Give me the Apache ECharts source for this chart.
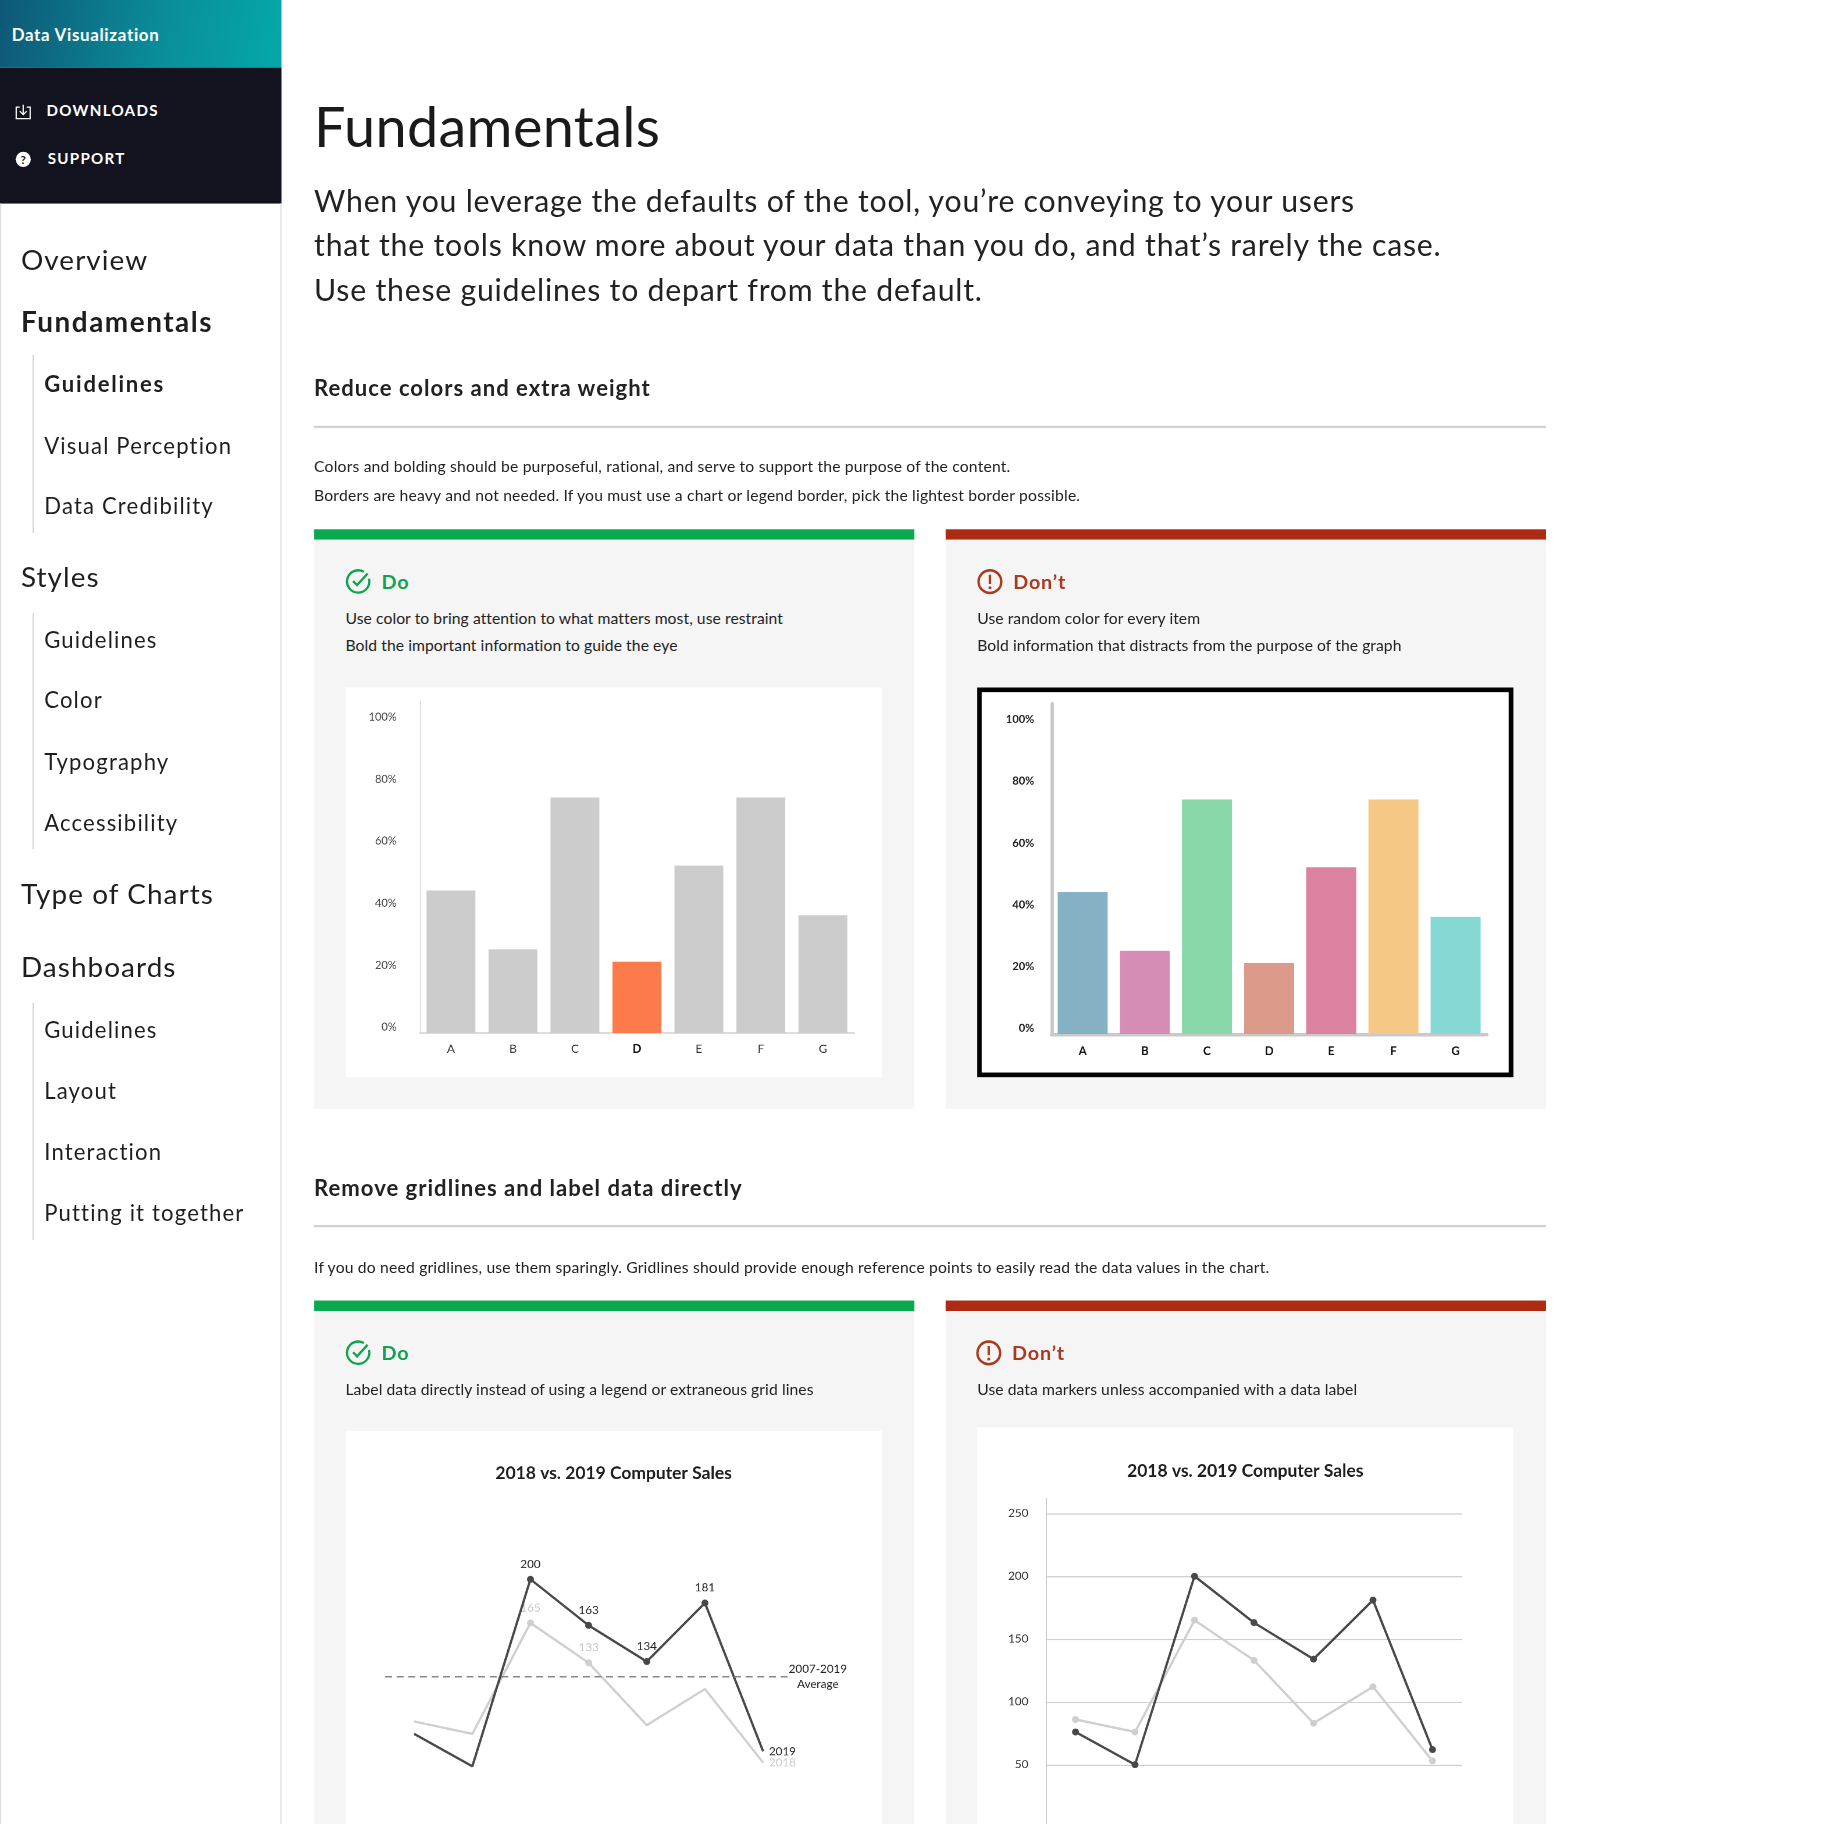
<!DOCTYPE html>
<html>
<head>
<meta charset="utf-8">
<title>Fundamentals</title>
<script src="https://cdn.jsdelivr.net/npm/echarts@6/dist/echarts.min.js"></script>
<style>
html, body { margin: 0; padding: 0; width: 1824px; height: 1824px; overflow: hidden; background: #fff; }
#page { position: absolute; left: 0; top: 0; width: 1568px; height: 1568px; overflow: hidden;
  transform: scale(1.16327); transform-origin: 0 0; font-family: Lato, "Open Sans", sans-serif; color: #1e1e1e; }
.t { position: absolute; white-space: nowrap; line-height: 1.2; }
.abs { position: absolute; }
.brand { left: 0; top: 0; width: 242px; height: 58px; background: linear-gradient(100deg, #0e5877 0%, #0a8f9b 60%, #04a9a8 100%); }
.topnav { left: 0; top: 58px; width: 242px; height: 117px; background: #13131f; }
.sidenav { left: 0; top: 175px; width: 240px; height: 1400px; border-left: 1px solid #ddd; border-right: 1px solid #ddd; }
.navl { font-size: 24px; color: #1e1e1e; left: 18px; letter-spacing: 0.9px; }
.navl.b { font-weight: 700; letter-spacing: 1.3px; }
.navs { font-size: 19px; color: #1e1e1e; left: 38px; letter-spacing: 1px; }
.navs.b { font-weight: 700; letter-spacing: 1.5px; }
.vline { left: 28px; width: 1px; background: #cfcfcf; }
.hr { left: 270px; width: 1059px; height: 1.5px; background: #d2d2d2; }
.intro { font-size: 26px; color: #222; left: 270px; letter-spacing: 0.65px; }
.para { font-size: 13.5px; color: #222; left: 270px; letter-spacing: 0.15px; }
.h2 { font-size: 19px; font-weight: 700; color: #222; left: 270px; letter-spacing: 0.85px; }
.bar-do { width: 516px; height: 9px; background: #0aa950; }
.bar-dont { width: 516px; height: 9px; background: #ad2b13; }
.panel { width: 516px; background: #f5f5f5; }
.verdict { font-size: 17px; font-weight: 700; letter-spacing: 0.7px; }
.desc { font-size: 13.5px; color: #222; letter-spacing: 0.05px; }
.top { font-size: 13px; font-weight: 700; color: #fff; letter-spacing: 1.1px; }
.box { background: #fff; }
</style>
</head>
<body>
<div id="page">
  <!-- sidebar -->
  <div class="abs brand"></div>
  <div class="t" style="left:10px;top:21px;font-size:14.5px;font-weight:700;color:#fff;letter-spacing:0.6px;">Data Visualization</div>
  <div class="abs topnav"></div>
  <svg class="abs" style="left:12px;top:89px" width="16" height="15" viewBox="0 0 16 15">
    <path d="M5 3 H2 V13 H14 V3 H11" fill="none" stroke="#fff" stroke-width="1.1"/>
    <path d="M8 1 V9 M5 6.5 L8 9.5 L11 6.5" fill="none" stroke="#fff" stroke-width="1.1"/>
  </svg>
  <div class="t top" style="left:40px;top:88px;">DOWNLOADS</div>
  <svg class="abs" style="left:13px;top:130px" width="14" height="14" viewBox="0 0 14 14">
    <circle cx="7" cy="7" r="6.5" fill="#fff"/>
    <text x="7" y="10.6" text-anchor="middle" font-size="10" font-weight="700" font-family="Lato, sans-serif" fill="#13131f">?</text>
  </svg>
  <div class="t top" style="left:41px;top:129px;">SUPPORT</div>
  <div class="abs sidenav"></div>

  <div class="t navl" style="top:209px;">Overview</div>
  <div class="t navl b" style="top:262px;">Fundamentals</div>
  <div class="abs vline" style="top:305px;height:153px;"></div>
  <div class="t navs b" style="top:319px;">Guidelines</div>
  <div class="t navs" style="top:372px;">Visual Perception</div>
  <div class="t navs" style="top:424px;">Data Credibility</div>
  <div class="t navl" style="top:482px;">Styles</div>
  <div class="abs vline" style="top:527px;height:203px;"></div>
  <div class="t navs" style="top:539px;">Guidelines</div>
  <div class="t navs" style="top:591px;">Color</div>
  <div class="t navs" style="top:644px;">Typography</div>
  <div class="t navs" style="top:696px;">Accessibility</div>
  <div class="t navl" style="top:754px;">Type of Charts</div>
  <div class="t navl" style="top:817px;">Dashboards</div>
  <div class="abs vline" style="top:862px;height:204px;"></div>
  <div class="t navs" style="top:874px;">Guidelines</div>
  <div class="t navs" style="top:927px;">Layout</div>
  <div class="t navs" style="top:979px;">Interaction</div>
  <div class="t navs" style="top:1032px;">Putting it together</div>

  <!-- main -->
  <div class="t" style="left:270px;top:79px;font-size:48px;color:#1a1a1a;letter-spacing:0.3px;">Fundamentals</div>
  <div class="t intro" style="top:157px;">When you leverage the defaults of the tool, you’re conveying to your users</div>
  <div class="t intro" style="top:195px;">that the tools know more about your data than you do, and that’s rarely the case.</div>
  <div class="t intro" style="top:234px;">Use these guidelines to depart from the default.</div>

  <div class="t h2" style="top:322px;">Reduce colors and extra weight</div>
  <div class="abs hr" style="top:366px;"></div>
  <div class="t para" style="top:393px;">Colors and bolding should be purposeful, rational, and serve to support the purpose of the content.</div>
  <div class="t para" style="top:418px;">Borders are heavy and not needed. If you must use a chart or legend border, pick the lightest border possible.</div>

  <div class="abs bar-do" style="left:270px;top:455px;"></div>
  <div class="abs panel" style="left:270px;top:464px;height:489px;"></div>
  <div class="abs bar-dont" style="left:813px;top:455px;"></div>
  <div class="abs panel" style="left:813px;top:464px;height:489px;"></div>

  <svg class="abs" style="left:296px;top:488px" width="24" height="24" viewBox="0 0 24 24">
    <path d="M21.2 9.5 A9.6 9.6 0 1 1 16.8 3.6" fill="none" stroke="#10a34f" stroke-width="2"/>
    <path d="M7.5 11.5 L11 15 L20 5" fill="none" stroke="#10a34f" stroke-width="2"/>
  </svg>
  <div class="t verdict" style="left:328px;top:490px;color:#10a34f;">Do</div>
  <div class="t desc" style="left:297px;top:523px;">Use color to bring attention to what matters most, use restraint</div>
  <div class="t desc" style="left:297px;top:547px;">Bold the important information to guide the eye</div>

  <svg class="abs" style="left:839px;top:488px" width="24" height="24" viewBox="0 0 24 24">
    <circle cx="12" cy="12" r="9.8" fill="none" stroke="#a93a1e" stroke-width="2"/>
    <path d="M12 6 V14" stroke="#a93a1e" stroke-width="2"/>
    <circle cx="12" cy="17.3" r="1.3" fill="#a93a1e"/>
  </svg>
  <div class="t verdict" style="left:871px;top:490px;color:#a93a1e;">Don’t</div>
  <div class="t desc" style="left:840px;top:523px;">Use random color for every item</div>
  <div class="t desc" style="left:840px;top:547px;">Bold information that distracts from the purpose of the graph</div>

  <div class="abs box" style="left:297px;top:591px;width:461px;height:335px;">
    <div id="doBar" style="width:461px;height:335px;"></div>
  </div>
  <div class="abs box" style="left:840px;top:591px;width:461px;height:335px;box-sizing:border-box;border:4px solid #000;">
    <div id="dontBar" style="width:453px;height:327px;"></div>
  </div>

  <div class="t h2" style="top:1010px;">Remove gridlines and label data directly</div>
  <div class="abs hr" style="top:1053px;"></div>
  <div class="t para" style="top:1081px;">If you do need gridlines, use them sparingly. Gridlines should provide enough reference points to easily read the data values in the chart.</div>

  <div class="abs bar-do" style="left:270px;top:1118px;"></div>
  <div class="abs panel" style="left:270px;top:1127px;height:480px;"></div>
  <div class="abs bar-dont" style="left:813px;top:1118px;"></div>
  <div class="abs panel" style="left:813px;top:1127px;height:480px;"></div>

  <svg class="abs" style="left:296px;top:1151px" width="24" height="24" viewBox="0 0 24 24">
    <path d="M21.2 9.5 A9.6 9.6 0 1 1 16.8 3.6" fill="none" stroke="#10a34f" stroke-width="2"/>
    <path d="M7.5 11.5 L11 15 L20 5" fill="none" stroke="#10a34f" stroke-width="2"/>
  </svg>
  <div class="t verdict" style="left:328px;top:1153px;color:#10a34f;">Do</div>
  <div class="t desc" style="left:297px;top:1186px;">Label data directly instead of using a legend or extraneous grid lines</div>

  <svg class="abs" style="left:838px;top:1151px" width="24" height="24" viewBox="0 0 24 24">
    <circle cx="12" cy="12" r="9.8" fill="none" stroke="#a93a1e" stroke-width="2"/>
    <path d="M12 6 V14" stroke="#a93a1e" stroke-width="2"/>
    <circle cx="12" cy="17.3" r="1.3" fill="#a93a1e"/>
  </svg>
  <div class="t verdict" style="left:870px;top:1153px;color:#a93a1e;">Don’t</div>
  <div class="t desc" style="left:840px;top:1186px;">Use data markers unless accompanied with a data label</div>

  <div class="abs box" style="left:297px;top:1230px;width:461px;height:390px;">
    <div id="doLine" style="width:461px;height:390px;"></div>
  </div>
  <div class="abs box" style="left:840px;top:1227px;width:461px;height:393px;">
    <div id="dontLine" style="width:461px;height:393px;"></div>
  </div>
</div>

<script>
// bar charts: share of each category
var barCategories = ['A', 'B', 'C', 'D', 'E', 'F', 'G'];
var barValues = [46, 27, 76, 23, 54, 76, 38];
var highlightIndex = 3;
var percentMax = 107;
var percentStep = 20;

// line charts: computer sales
var salesPeriods = ['1', '2', '3', '4', '5', '6', '7'];
var sales2019 = [76, 50, 200, 163, 134, 181, 62];
var sales2018 = [86, 76, 165, 133, 83, 112, 53];
var salesAverage = 122;
var labeled2019 = [2, 3, 4, 5];
var labeled2018 = [2, 3];
var salesMax = 262;
var salesStep = 50;

var dontPalette = ['#85b1c4', '#d68db5', '#88d8aa', '#db9a8a', '#da82a0', '#f5c885', '#86d8d4'];
var FONT = 'Lato, sans-serif';
var OPTS = { devicePixelRatio: 2 };

//Do: grey bars, one highlighted
var doBar = echarts.init(document.getElementById('doBar'), null, OPTS);
doBar.setOption({
	animation: false,
	grid: { left: 64, right: 24, top: 12, bottom: 38 },
	xAxis: {
		type: 'category',
		data: barCategories,
		axisLine: { lineStyle: { color: '#dcdcdc', width: 2 } },
		axisTick: { show: false },
		axisLabel: {
			margin: 9, fontSize: 10, fontFamily: FONT, color: '#333',
			formatter: function (v, i) { return i === highlightIndex ? '{b|' + v + '}' : v; },
			rich: { b: { fontWeight: 'bold', fontSize: 10, fontFamily: FONT, color: '#111' } }
		}
	},
	yAxis: {
		type: 'value', min: 0, max: percentMax, interval: percentStep,
		axisLine: { show: true, lineStyle: { color: '#dcdcdc', width: 1 } },
		axisTick: { show: false },
		splitLine: { show: false },
		axisLabel: { margin: 20, fontSize: 9.5, fontFamily: FONT, color: '#444', verticalAlign: 'bottom', showMaxLabel: false, formatter: '{value}%' }
	},
	series: [{
		type: 'bar',
		barWidth: 42,
		data: barValues.map(function (v, i) {
			return { value: v, itemStyle: { color: i === highlightIndex ? '#fd7b4b' : '#cccccc' } };
		})
	}]
});

//Don't: a different colour for each bar, bold labels
var dontBar = echarts.init(document.getElementById('dontBar'), null, OPTS);
dontBar.setOption({
	animation: false,
	grid: { left: 60, right: 19, top: 10, bottom: 33 },
	xAxis: {
		type: 'category',
		data: barCategories,
		axisLine: { lineStyle: { color: '#c9c9c9', width: 3 } },
		axisTick: { show: false },
		axisLabel: { margin: 10, fontSize: 10, fontWeight: 'bold', fontFamily: FONT, color: '#111' }
	},
	yAxis: {
		type: 'value', min: 0, max: percentMax, interval: percentStep,
		axisLine: { show: true, lineStyle: { color: '#c9c9c9', width: 3 } },
		axisTick: { show: false },
		splitLine: { show: false },
		axisLabel: { margin: 15, fontSize: 9.5, fontWeight: 'bold', fontFamily: FONT, color: '#222', verticalAlign: 'bottom', showMaxLabel: false, formatter: '{value}%' }
	},
	series: [{
		type: 'bar',
		barWidth: 43,
		data: barValues.map(function (v, i) {
			return { value: v, itemStyle: { color: dontPalette[i] } };
		})
	}]
});

function pointData(values, labeled, color) {
	return values.map(function (v, i) {
		var on = labeled.indexOf(i) >= 0;
		return {
			value: v,
			symbolSize: on ? 6 : 0,
			label: { show: on, position: 'top', distance: 5, fontSize: 10, fontFamily: FONT, color: color }
		};
	});
}

var titleStyle = { fontSize: 15, fontWeight: 'bold', fontFamily: FONT, color: '#1e1e1e' };

//Do: labelled lines, no axes
var doLine = echarts.init(document.getElementById('doLine'), null, OPTS);
doLine.setOption({
	animation: false,
	title: { text: '2018 vs. 2019 Computer Sales', left: 'center', top: 24, textStyle: titleStyle },
	grid: { left: 34, right: 77, top: 74, bottom: 48 },
	xAxis: { type: 'category', data: salesPeriods, boundaryGap: true, show: false },
	yAxis: { type: 'value', min: 0, max: 250, show: false },
	series: [{
		name: '2018',
		type: 'line',
		symbol: 'circle',
		z: 2,
		lineStyle: { color: '#cfcfcf', width: 2 },
		itemStyle: { color: '#cfcfcf' },
		endLabel: { show: true, formatter: '{a}', fontSize: 10, fontFamily: FONT, color: '#c8c8c8', distance: 5 },
		data: pointData(sales2018, labeled2018, '#c8c8c8')
	}, {
		name: '2019',
		type: 'line',
		symbol: 'circle',
		z: 3,
		lineStyle: { color: '#484848', width: 2 },
		itemStyle: { color: '#484848' },
		endLabel: { show: true, formatter: '{a}', fontSize: 10, fontFamily: FONT, color: '#222', distance: 5 },
		data: pointData(sales2019, labeled2019, '#222'),
		markLine: {
			silent: true,
			symbol: 'none',
			lineStyle: { type: [6, 4], color: '#777', width: 1 },
			label: {
				position: 'end', distance: -3,
				formatter: '{a|2007-2019}\n{a|Average}',
				rich: { a: { align: 'center', fontSize: 10, lineHeight: 13, fontFamily: FONT, color: '#222' } }
			},
			data: [{ yAxis: salesAverage }]
		}
	}]
});

//Don't: gridlines and markers without labels
var dontLine = echarts.init(document.getElementById('dontLine'), null, OPTS);
dontLine.setOption({
	animation: false,
	title: { text: '2018 vs. 2019 Computer Sales', left: 'center', top: 25, textStyle: titleStyle },
	grid: { left: 59, right: 44, top: 61, bottom: 49 },
	xAxis: {
		type: 'category', data: salesPeriods, boundaryGap: true,
		axisLine: { show: false }, axisTick: { show: false }, axisLabel: { show: false }
	},
	yAxis: {
		type: 'value', min: 0, max: salesMax, interval: salesStep,
		axisLine: { show: true, lineStyle: { color: '#cccccc', width: 1 } },
		axisTick: { show: false },
		splitLine: { show: true, showMaxLine: false, showMinLine: false, lineStyle: { color: '#cfcfcf', width: 1 } },
		axisLabel: { margin: 15, fontSize: 10, fontFamily: FONT, color: '#333', showMaxLabel: false, showMinLabel: false }
	},
	series: [{
		name: '2018',
		type: 'line',
		symbol: 'circle',
		symbolSize: 6,
		z: 2,
		lineStyle: { color: '#cfcfcf', width: 2 },
		itemStyle: { color: '#cfcfcf' },
		data: sales2018
	}, {
		name: '2019',
		type: 'line',
		symbol: 'circle',
		symbolSize: 6,
		z: 3,
		lineStyle: { color: '#484848', width: 2 },
		itemStyle: { color: '#484848' },
		data: sales2019
	}]
});
</script>
</body>
</html>
